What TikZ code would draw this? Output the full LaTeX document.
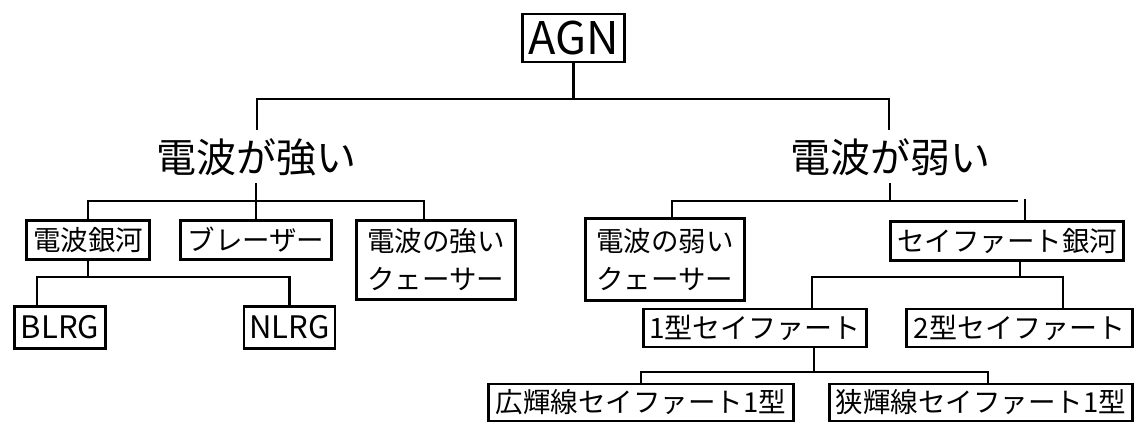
\documentclass[tikz,border=0pt]{standalone}
\usepackage{fontspec}
\setmainfont{Noto Sans CJK JP}
\begin{document}
\begin{tikzpicture}[x=1pt,y=-1pt,
  box/.style={draw, line width=2.8pt, inner sep=0pt, align=center, font=\fontsize{27.5}{38}\selectfont},
  wide/.style={font=\fontsize{28}{34}\selectfont},
  big/.style={inner sep=0pt, font=\fontsize{40}{46}\selectfont},
  conn/.style={line width=2.8pt}]
\useasboundingbox (0,0) rectangle (1137,425);
% nodes
\node[box, minimum width=102, minimum height=48, font=\fontsize{45}{50}\selectfont] (agn) at (573.5,38) {AGN};
\node[big] (strong) at (256,157) {電波が強い};
\node[big] (weak) at (890,157) {電波が弱い};
\node[box, minimum width=123, minimum height=39] (radgal) at (88,240) {電波銀河};
\node[box, minimum width=151, minimum height=39] (blazar) at (256,240) {ブレーザー};
\node[box, minimum width=159, minimum height=79] (sq) at (436,260) {電波の強い\\クェーサー};
\node[box, minimum width=91, minimum height=42, font=\fontsize{31}{36}\selectfont] (blrg) at (60,327.5) {BLRG};
\node[box, minimum width=91, minimum height=42, font=\fontsize{31}{36}\selectfont] (nlrg) at (289.5,327.5) {NLRG};
\node[box, minimum width=159, minimum height=82] (wq) at (665,259.5) {電波の弱い\\クェーサー};
\node[box, minimum width=233, minimum height=39] (sey) at (1007,241) {セイファート銀河};
\node[box, wide, minimum width=223, minimum height=38] (t1) at (755,328) {1型セイファート};
\node[box, wide, minimum width=226, minimum height=38] (t2) at (1019.5,328) {2型セイファート};
\node[box, minimum width=305, minimum height=37] (bl) at (641,402.5) {広輝線セイファート1型};
\node[box, minimum width=303, minimum height=37] (nl) at (981,402.5) {狭輝線セイファート1型};
% junction coordinates
\coordinate (tL) at (257,130);
\coordinate (tR) at (889,130);
\coordinate (tj) at (573.5,99);
\coordinate (sT) at (256,183);
\coordinate (sR) at (424,201);
\coordinate (rj) at (88,277);
\coordinate (rL) at (37,277);
\coordinate (wT) at (890,183);
\coordinate (wj) at (890,201);
\coordinate (wL) at (672,201);
\coordinate (wR) at (1018,201);
\coordinate (wS) at (1025,199);
\coordinate (yj) at (1020,277);
\coordinate (yL) at (812,277);
\coordinate (yR) at (1063,277);
\coordinate (uj) at (814,372);
\coordinate (uR) at (988,372);
% connectors
\draw[conn] (agn.south) -- (tj);
\draw[conn] (tL) |- (tj) -| (tR);
\draw[conn] (sT) -- (blazar.north);
\draw[conn] (radgal.north) |- (sR) -- (sR |- sq.north);
\draw[conn] (radgal.south) -- (rj);
\draw[conn] (rL |- blrg.north) -- (rL) -| (nlrg.north);
\draw[conn] (wT) -- (wj);
\draw[conn] (wL |- wq.north) -- (wL) -- (wR);
\draw[conn] (wS) -- (wS |- sey.north);
\draw[conn] (yj |- sey.south) -- (yj);
\draw[conn] (yL |- t1.north) -- (yL) -- (yR) -- (yR |- t2.north);
\draw[conn] (uj |- t1.south) -- (uj);
\draw[conn] (bl.north) |- (uR) -- (uR |- nl.north);
\end{tikzpicture}
\end{document}
